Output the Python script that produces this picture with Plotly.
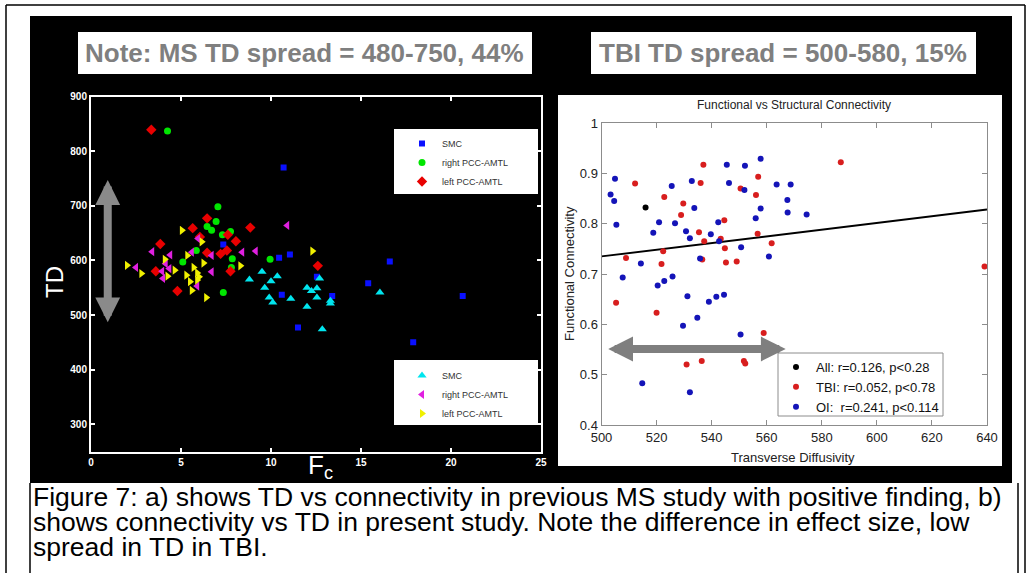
import plotly.graph_objects as go

W, H = 1030, 573


def fx(x):
    return x / W


def fy(y):
    return 1 - y / H


# ---------------- Left panel data (Fc vs TD, previous MS study) ----------------
smc_sq_x = [10.7, 7.35, 10.45, 11.05, 12.55, 10.6, 13.4, 16.6, 15.4, 20.65, 11.5, 17.9]
smc_sq_y = [770, 629, 605, 611, 570, 537, 535, 598, 558, 535, 477, 450]

rpcc_circ_x = [4.25, 7.05, 6.95, 6.45, 6.7, 7.3, 7.75, 5.85, 7.85, 5.1, 7.8, 9.95, 7.35]
rpcc_circ_y = [837, 698, 671, 662, 655, 647, 653, 618, 603, 597, 587, 602, 541]

lpcc_dia_x = [3.35, 6.45, 5.65, 8.85, 7.6, 8.05, 6.05, 3.85, 6.45, 7.2, 7.55, 3.6, 7.75, 4.8, 12.6]
lpcc_dia_y = [839, 677, 659, 660, 647, 635, 643, 630, 614, 612, 618, 580, 580, 544, 590]

smc_tri_x = [9.5, 10.35, 8.8, 10.0, 12.7, 9.65, 12.0, 12.25, 12.55, 9.9, 11.1, 12.55, 12.0, 13.3, 13.3, 16.05, 12.85, 10.1]
smc_tri_y = [579, 571, 565, 562, 567, 550, 550, 544, 549, 532, 530, 532, 515, 521, 526, 541, 474, 523]

rpcc_tri_x = [10.9, 3.4, 4.4, 5.6, 6.7, 8.4, 9.15, 4.15, 3.95, 4.0, 2.5, 6.7, 5.9, 5.95, 4.35]
rpcc_tri_y = [664, 616, 610, 615, 609, 615, 617, 594, 580, 567, 587, 579, 553, 640, 585]

lpcc_tri_x = [5.05, 6.15, 5.35, 4.1, 6.25, 2.0, 2.8, 4.65, 4.25, 5.3, 5.7, 5.9, 6.0, 5.5, 5.9, 5.6, 6.4, 8.3, 12.3]
lpcc_tri_y = [655, 634, 609, 602, 595, 591, 576, 582, 571, 573, 587, 577, 570, 561, 564, 545, 532, 590, 617]

ms_td_spread = [484, 747]   # gray double arrow (TD)
ms_arrow_fc = 0.93

# ---------------- Right panel data (TD vs functional connectivity, TBI study) ----------------
all_x = [516.0]
all_y = [0.832]

tbi_x = [512.2, 508.9, 522.8, 522.4, 521.8, 529.7, 528.9, 535.4, 537.0, 536.0, 537.3, 536.6,
         544.6, 543.3, 544.8, 545.2, 549.1, 550.5, 556.9, 556.1, 556.7, 561.8, 586.9, 639.1,
         505.3, 520.0, 558.9, 530.9, 536.4, 551.7, 552.2]
tbi_y = [0.880, 0.732, 0.853, 0.745, 0.720, 0.840, 0.817, 0.783, 0.917, 0.881, 0.765, 0.729,
         0.807, 0.770, 0.751, 0.723, 0.725, 0.870, 0.893, 0.857, 0.780, 0.761, 0.922, 0.715,
         0.643, 0.623, 0.583, 0.520, 0.527, 0.527, 0.522]

oi_x = [503.3, 504.9, 504.6, 505.4, 514.3, 507.7, 518.8, 520.9, 525.5, 525.8, 522.8, 520.4,
        526.7, 530.7, 532.8, 533.7, 532.1, 535.8, 539.7, 542.4, 542.7, 545.5, 546.3, 551.9,
        552.1, 550.7, 557.8, 557.8, 556.0, 560.8, 563.6, 568.7, 567.5, 567.6, 574.5, 531.2,
        539.0, 541.7, 544.5, 534.8, 529.6, 550.5, 514.8, 532.1]
oi_y = [0.858, 0.889, 0.845, 0.798, 0.721, 0.693, 0.782, 0.803, 0.875, 0.695, 0.686, 0.677,
        0.801, 0.785, 0.885, 0.831, 0.771, 0.731, 0.779, 0.803, 0.765, 0.917, 0.881, 0.867,
        0.915, 0.753, 0.929, 0.830, 0.811, 0.735, 0.878, 0.878, 0.847, 0.822, 0.818, 0.656,
        0.645, 0.655, 0.659, 0.613, 0.597, 0.580, 0.483, 0.465]

fit_x = [500, 640]
fit_y = [0.735, 0.828]

tbi_td_spread = [501.9, 566.9]
tbi_arrow_fc = 0.551

legend_labels_r = ["All: r=0.126, p<0.28", "TBI: r=0.052, p<0.78", "OI:  r=0.241, p<0.114"]
caption_lines = [
    "Figure 7: a) shows TD vs connectivity in previous MS study with positive finding, b)",
    "shows connectivity vs TD in present study. Note the difference in effect size, low",
    "spread in TD in TBI.",
]

FONT = "Liberation Sans, Arial, sans-serif"

fig = go.Figure()

left_series = [
    ("SMC", smc_sq_x, smc_sq_y, "square", "#0a10ff", 6, "legend"),
    ("right PCC-AMTL", rpcc_circ_x, rpcc_circ_y, "circle", "#00e600", 7, "legend"),
    ("left PCC-AMTL", lpcc_dia_x, lpcc_dia_y, "diamond", "#e80000", 8, "legend"),
    ("SMC", smc_tri_x, smc_tri_y, "triangle-up", "#00e5ee", 8, "legend2"),
    ("right PCC-AMTL", rpcc_tri_x, rpcc_tri_y, "triangle-left", "#e020e0", 8, "legend2"),
    ("left PCC-AMTL", lpcc_tri_x, lpcc_tri_y, "triangle-right", "#f0f000", 8, "legend2"),
]
for name, xs, ys, sym, col, sz, lg in left_series:
    fig.add_trace(go.Scatter(x=xs, y=ys, mode="markers", name=name, legend=lg,
                             marker=dict(symbol=sym, color=col, size=sz, line=dict(width=0)),
                             xaxis="x", yaxis="y"))

fig.add_trace(go.Scatter(x=fit_x, y=fit_y, mode="lines", line=dict(color="black", width=2),
                         showlegend=False, xaxis="x2", yaxis="y2"))
right_series = [
    (legend_labels_r[0], all_x, all_y, "#000000"),
    (legend_labels_r[1], tbi_x, tbi_y, "#d81e1e"),
    (legend_labels_r[2], oi_x, oi_y, "#1414b8"),
]
for name, xs, ys, col in right_series:
    fig.add_trace(go.Scatter(x=xs, y=ys, mode="markers", name=name, legend="legend3",
                             marker=dict(symbol="circle", color=col, size=6),
                             xaxis="x2", yaxis="y2"))


def prect(x0, y0, x1, y1, **kw):
    return dict(type="rect", xref="paper", yref="paper", x0=fx(x0), x1=fx(x1), y0=fy(y1), y1=fy(y0), **kw)


def pline(x0, y0, x1, y1):
    return dict(type="line", xref="paper", yref="paper", x0=fx(x0), x1=fx(x1), y0=fy(y0), y1=fy(y1),
                line=dict(color="black", width=1.5), layer="below")


shapes = [
    pline(6, 5, 1025, 5),
    pline(6, 5, 6, 573),
    pline(1025, 5, 1025, 573),
    prect(30, 16, 1012, 483, line=dict(width=0), fillcolor="black", layer="below"),
    pline(30, 483, 30, 573),
    pline(1018, 483, 1018, 573),
    prect(78, 32, 532, 74, line=dict(width=0), fillcolor="white", layer="below"),
    prect(591, 32, 976, 74, line=dict(width=0), fillcolor="white", layer="below"),
    prect(558, 95, 1002, 466, line=dict(width=0), fillcolor="white", layer="below"),
    prect(394, 129, 538, 194, line=dict(width=0), fillcolor="white", layer="above"),
    prect(394, 360, 538, 425, line=dict(width=0), fillcolor="white", layer="above"),
    prect(778, 353, 943, 416, line=dict(color="#8c8c8c", width=1), fillcolor="white", layer="above"),
]


def ptext(text, x, y, size, color, angle=0, weight="normal", xanchor="center"):
    return dict(text=text, x=fx(x), y=fy(y), xref="paper", yref="paper", xanchor=xanchor,
                yanchor="middle", textangle=angle, showarrow=False,
                font=dict(family=FONT, size=size, color=color, weight=weight))


annotations = [
    ptext("Note: MS TD spread = 480-750, 44%", 304, 53, 26, "#7f7f7f", weight="bold"),
    ptext("TBI TD spread = 500-580, 15%", 783, 53, 26, "#7f7f7f", weight="bold"),
    ptext("TD", 54, 282, 24, "white", angle=-90),
    ptext("F<sub>c</sub>", 320, 466, 26, "white"),
    ptext("Functional vs Structural Connectivity", 794, 105, 12, "#222"),
    ptext("Functional Connectivity", 569, 274, 13, "#222", angle=-90),
    ptext("Transverse Diffusivity", 793, 457, 13, "#222"),
    dict(x=ms_arrow_fc, y=ms_td_spread[1], ax=ms_arrow_fc, ay=ms_td_spread[0], xref="x", yref="y",
         axref="x", ayref="y", text="", showarrow=True, arrowhead=2, startarrowhead=2,
         arrowside="end+start", arrowwidth=8, arrowsize=0.62, startarrowsize=0.62, arrowcolor="#8a8a8a"),
    dict(x=tbi_td_spread[1], y=tbi_arrow_fc, ax=tbi_td_spread[0], ay=tbi_arrow_fc, xref="x2", yref="y2",
         axref="x2", ayref="y2", text="", showarrow=True, arrowhead=2, startarrowhead=2,
         arrowside="end+start", arrowwidth=8, arrowsize=0.62, startarrowsize=0.62, arrowcolor="#7f7f7f"),
]
for i, line in enumerate(caption_lines):
    annotations.append(ptext(line, 31, 497 + 25 * i, 26.5, "black", xanchor="left"))

left_axis_common = dict(showgrid=False, zeroline=False, showline=True, linecolor="white", linewidth=2,
                        mirror="ticks", ticks="inside", tickcolor="white", ticklen=4, tickwidth=2,
                        tickfont=dict(family=FONT, size=10, color="white", weight="bold"))
right_axis_common = dict(showgrid=False, zeroline=False, showline=True, linecolor="#8c8c8c", linewidth=1,
                         mirror="ticks", ticks="inside", tickcolor="#8c8c8c", ticklen=5, tickwidth=1,
                         tickfont=dict(family=FONT, size=13, color="#222"))

fig.update_layout(
    width=W, height=H, autosize=False,
    margin=dict(l=0, r=0, t=0, b=0, pad=0, autoexpand=False),
    paper_bgcolor="white", plot_bgcolor="rgba(0,0,0,0)",
    xaxis=dict(domain=[fx(91), fx(541)], range=[0, 25], tickvals=[0, 5, 10, 15, 20, 25], anchor="y",
               **left_axis_common),
    yaxis=dict(domain=[fy(451.6), fy(96.5)], range=[250, 900], tickvals=[300, 400, 500, 600, 700, 800, 900],
               anchor="x", **left_axis_common),
    xaxis2=dict(domain=[fx(601.5), fx(987)], range=[500, 640], dtick=20, tick0=500, anchor="y2",
                **right_axis_common),
    yaxis2=dict(domain=[fy(425), fy(123)], range=[0.4, 1.0], dtick=0.1, tick0=0.4, anchor="x2",
                **right_axis_common),
    legend=dict(x=fx(402), y=fy(129), xanchor="left", yanchor="top", bgcolor="rgba(0,0,0,0)",
                font=dict(family=FONT, size=9, color="#333")),
    legend2=dict(x=fx(402), y=fy(361), xanchor="left", yanchor="top", bgcolor="rgba(0,0,0,0)",
                 font=dict(family=FONT, size=9, color="#333")),
    legend3=dict(x=fx(776), y=fy(352), xanchor="left", yanchor="top", bgcolor="rgba(0,0,0,0)",
                 font=dict(family=FONT, size=13, color="#111")),
    shapes=shapes,
    annotations=annotations,
)

fig.write_html("out.html", config={"displayModeBar": False},
               post_script="document.body.style.margin='0px';document.body.style.overflow='hidden';")
